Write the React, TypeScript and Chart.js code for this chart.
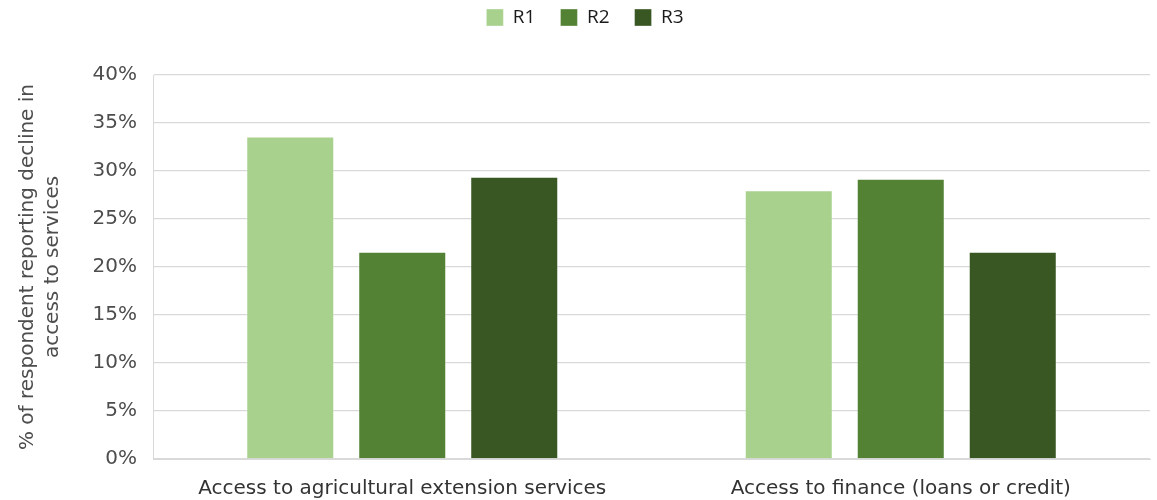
import React, { useEffect, useRef } from "react";
import { Chart, registerables } from "chart.js";

Chart.register(...registerables);

const categories = [
  "Access to agricultural extension services",
  "Access to finance (loans or credit)",
];
const seriesNames = ["R1", "R2", "R3"];
const r1Values = [33.6, 28.0];
const r2Values = [21.6, 29.2];
const r3Values = [29.4, 21.6];
const seriesColors = ["#a9d18e", "#548235", "#385723"];
const yTicksMax = 40;
const yTickStep = 5;
const yTitle = ["% of respondent reporting decline in", "access to services"];

const legendSpacer = {
  id: "legendSpacer",
  beforeLayout(chart: any) {
    const lg = chart.legend;
    if (lg && !lg.__patched) {
      const orig = lg.fit.bind(lg);
      lg.fit = function () {
        orig();
        this.height = 92;
      };
      lg.__patched = true;
    }
  },
};

export default function App() {
  const ref = useRef<HTMLCanvasElement | null>(null);

  useEffect(() => {
    const canvas = ref.current;
    if (!canvas) return;
    const values = [r1Values, r2Values, r3Values];
    const chart = new Chart(canvas, {
      type: "bar",
      data: {
        labels: categories,
        datasets: seriesNames.map((name, i) => ({
          label: name,
          data: values[i],
          backgroundColor: seriesColors[i],
          borderColor: "rgba(255,255,255,0.35)",
          borderWidth: 1,
          barPercentage: 0.786,
          categoryPercentage: 0.674,
        })),
      },
      plugins: [legendSpacer],
      options: {
        responsive: false,
        animation: false,
        layout: { padding: { top: -17, right: 7, left: 20, bottom: 0 } },
        plugins: {
          tooltip: { enabled: false },
          legend: {
            position: "top",
            align: "center",
            labels: {
              boxWidth: 17,
              boxHeight: 17,
              padding: 25,
              color: "#1a1a1a",
              font: { family: "'Open Sans'", size: 19 },
            },
          },
        },
        scales: {
          x: {
            grid: { display: false, drawTicks: false },
            border: { display: true, color: "#d9d9d9", width: 1 },
            ticks: {
              padding: 18,
              color: "#333333",
              font: { family: "'DejaVu Sans'", size: 20 },
              maxRotation: 0,
            },
            afterFit: (scale: any) => {
              scale.height = 41;
            },
          },
          y: {
            min: 0,
            max: yTicksMax,
            grid: { color: "#d9d9d9", lineWidth: 1.3, drawTicks: false },
            border: { display: true, color: "#d9d9d9", width: 1 },
            ticks: {
              stepSize: yTickStep,
              padding: 16,
              color: "#4d4d4d",
              font: { family: "'DejaVu Sans'", size: 20 },
              callback: (v: any) => v + "%",
            },
            title: {
              display: true,
              text: yTitle,
              color: "#4d4d4d",
              font: { family: "'DejaVu Sans'", size: 20, lineHeight: 1.25 },
              padding: { top: -5, bottom: 0 },
            },
            afterFit: (scale: any) => {
              scale.width = 133;
            },
          },
        },
      },
    });
    return () => chart.destroy();
  }, []);

  return (
    <div style={{ position: "absolute", left: 0, top: 0, width: 1157, height: 500 }}>
      <canvas ref={ref} width={1157} height={500} />
    </div>
  );
}
